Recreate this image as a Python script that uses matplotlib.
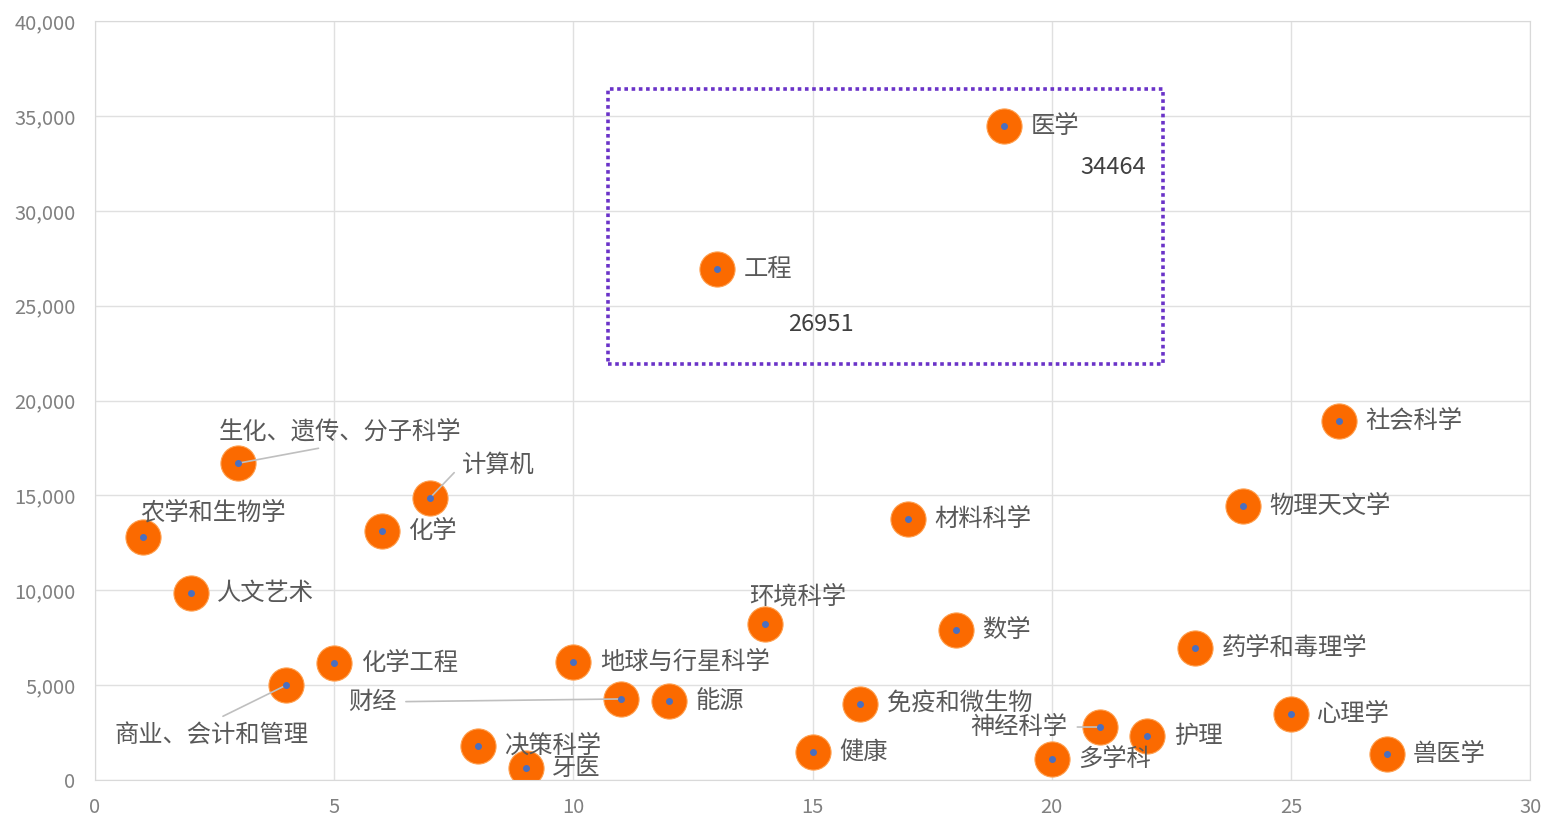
import matplotlib.pyplot as plt
from matplotlib.patches import Rectangle
from matplotlib.ticker import FuncFormatter, MultipleLocator

plt.rcParams['font.family'] = ['Noto Sans CJK SC', 'DejaVu Sans']

# data
subjects = ['农学和生物学', '人文艺术', '生化、遗传、分子科学', '商业、会计和管理', '化学工程',
            '化学', '计算机', '决策科学', '牙医', '地球与行星科学', '财经', '能源', '工程',
            '环境科学', '健康', '免疫和微生物', '材料科学', '数学', '医学', '多学科',
            '神经科学', '护理', '药学和毒理学', '物理天文学', '心理学', '社会科学', '兽医学']
x_index = list(range(1, 28))
papers = [12800, 9850, 16700, 5000, 6170, 13120, 14860, 1790, 630, 6220, 4270, 4160, 26951,
          8220, 1480, 4000, 13750, 7900, 34464, 1110, 2790, 2320, 6960, 14440, 3480, 18920, 1370]
highlight = ['工程', '医学']

# label placement (offset in points, alignment, leader line anchor on the text)
label_style = {
    '农学和生物学': ((-2, 18), 'left', None),
    '生化、遗传、分子科学': ((-14, 23), 'left', (0.5, 0)),
    '商业、会计和管理': ((-124, -36), 'left', (0.5, 1)),
    '计算机': ((23, 24), 'left', (0, 0.5)),
    '环境科学': ((-11, 20), 'left', None),
    '财经': ((-162, -2), 'right', (1, 0.5)),
    '神经科学': ((-23, 0), 'right', (1, 0.5)),
}
value_offsets = {'工程': (51, -40), '医学': (55, -30)}

fig = plt.figure(figsize=(15.44, 8.15), dpi=100)
ax = fig.add_axes([0.0615, 0.043, 0.9295, 0.931])

ax.scatter(x_index, papers, s=640, color='#fb6a00', edgecolors='#ffa050', linewidths=0.8, zorder=2)
ax.scatter(x_index, papers, s=16, color='#4a6fc0', zorder=4)

for name, xv, yv in zip(subjects, x_index, papers):
    offset, ha, relpos = label_style.get(name, ((19, 0), 'left', None))
    arrow = None
    if relpos is not None:
        arrow = dict(arrowstyle='-', color='#bfbfbf', lw=1.2, relpos=relpos,
                     shrinkA=5, shrinkB=0)
    ax.annotate(name, (xv, yv), xytext=offset, textcoords='offset points',
                ha=ha, va='center', fontsize=17.5, color='#595959',
                arrowprops=arrow, zorder=3)
    if name in highlight:
        ax.annotate(str(yv), (xv, yv), xytext=value_offsets[name], textcoords='offset points',
                    ha='left', va='center', fontsize=17, color='#404040', zorder=3)

# dotted box around the two largest subjects
ax.add_patch(Rectangle((10.73, 21920), 22.33 - 10.73, 36420 - 21920, fill=False,
                       edgecolor='#6a33c8', linestyle=(0, (1, 1)), lw=2.6, zorder=5))

ax.set_xlim(0, 30)
ax.set_ylim(0, 40000)
ax.xaxis.set_major_locator(MultipleLocator(5))
ax.yaxis.set_major_locator(MultipleLocator(5000))
ax.yaxis.set_major_formatter(FuncFormatter(lambda v, p: f'{int(v):,}'))
ax.grid(True, color='#e0e0e0', lw=1)
ax.set_axisbelow(True)
for s in ax.spines.values():
    s.set_color('#d9d9d9')
ax.tick_params(length=0, labelsize=14.5, colors='#808080')
ax.tick_params(axis='y', pad=14)
ax.tick_params(axis='x', pad=12)

fig.savefig('out.png', dpi=100)
